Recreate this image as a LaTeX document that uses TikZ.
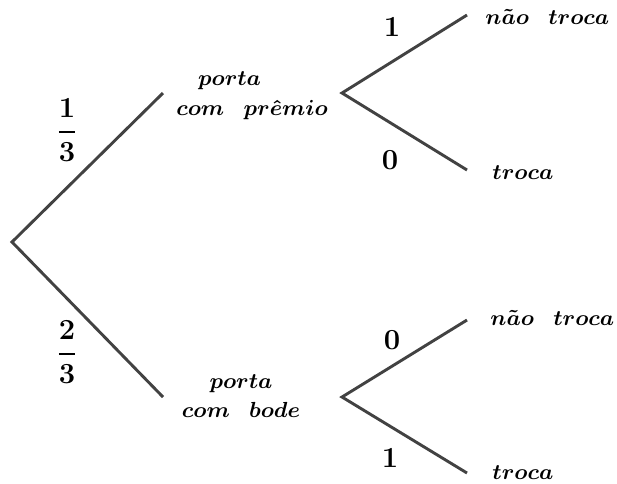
\documentclass[tikz,border=0pt]{standalone}
\usepackage{amsmath,amssymb,bm}
\usepackage{tikz}
\usetikzlibrary{positioning}
\definecolor{ramo}{HTML}{424242}
\newcommand{\esp}{\hspace{8pt}}

\begin{document}
\begin{tikzpicture}[x=0.145mm,y=-0.145mm,
  ramo/.style={draw=ramo,line width=1.2pt},
  texto/.style={inner sep=0pt,font=\fontsize{9.3}{12.3}\selectfont},
  folha/.style={texto,anchor=west},
  prob/.style={inner sep=0pt,font=\fontsize{13}{15}\selectfont}]
\useasboundingbox (0,0) rectangle (617,483);
% tree points
\coordinate (r) at (12,242);
\coordinate (p) at (163,93);
\coordinate (b) at (163,397);
\coordinate (pr) at (342,93);
\coordinate (br) at (342,397);
\coordinate (pn) at (467,15);
\coordinate (pt) at (467,170);
\coordinate (bn) at (467,320);
\coordinate (bt) at (467,473);

\draw[ramo] (p) -- (r) -- (b);
\draw[ramo] (pn) -- (pr) -- (pt);
\draw[ramo] (bn) -- (br) -- (bt);

% first stage
\node[prob] (f1) at (67,130) {$\bm{\dfrac{1}{3}}$};
\node[prob] (f2) at (67,352) {$\bm{\dfrac{2}{3}}$};
\node[texto,align=left] (np) at (252,96)
  {\hspace*{9pt}$\bm{porta}$\\ $\bm{com}\esp\bm{pr\hat{e}mio}$};
\node[texto,align=center] (nb) at (241,396)
  {$\bm{porta}$\\ $\bm{com}\esp\bm{bode}$};

% second stage
\node[prob] (p1) at (392,27) {$\bm{1}$};
\node[prob] (p0) at (390,160) {$\bm{0}$};
\node[prob] (b0) at (392,340) {$\bm{0}$};
\node[prob] (b1) at (390,458) {$\bm{1}$};
\node[folha] (lpn) at (485,17) {$\bm{n\tilde{a}o}\esp\bm{troca}$};
\node[folha] (lpt) at (492,173) {$\bm{troca}$};
\node[folha] (lbn) at (490,318) {$\bm{n\tilde{a}o}\esp\bm{troca}$};
\node[folha] (lbt) at (492,473) {$\bm{troca}$};
\end{tikzpicture}
\end{document}
